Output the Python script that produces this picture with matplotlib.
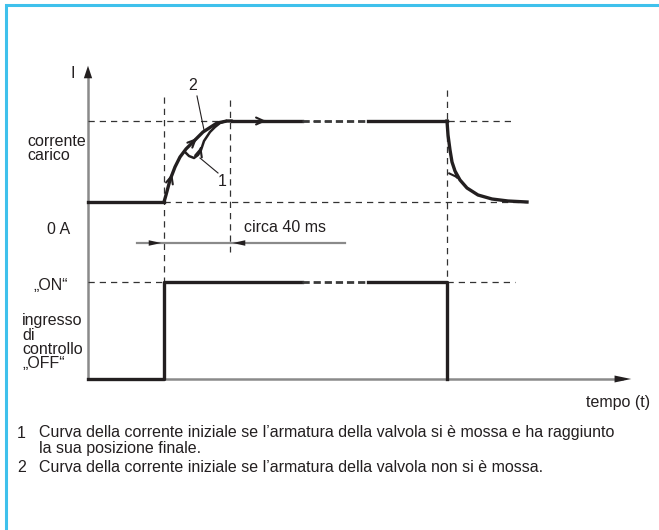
import matplotlib.pyplot as plt
import numpy as np

plt.rcParams['font.family'] = ['Liberation Sans', 'DejaVu Sans']

# time positions (px) of the events
t_on = 164
t_settle = 230
t_off = 447
t_end_load = 515
t_axis_end = 634

# levels (px, y grows downwards)
y_load = 121
y_zero = 202
y_on = 282
y_off = 379

# start-up current curves
curve2_x = [164, 166, 170, 175, 180, 186, 192, 203, 217, 227, 232]
curve2_y = [202, 195, 180, 167, 157, 149, 143, 132, 123, 121, 121]
curve1_x = [185, 189, 194, 198, 201, 204, 210, 215, 220, 226]
curve1_y = [152, 156, 158, 155, 150, 141, 132, 127, 123, 121]

# current decay after switch-off
decay_x = [447, 448, 450, 452, 455, 460, 467, 478, 492, 508, 527]
decay_y = [121, 135, 150, 162, 171, 180, 188, 195, 199, 201, 202]

# side labels: (text, x, y centre)
labels = [
    ("I", 70, 74),
    ("corrente", 27, 142),
    ("carico", 27, 156),
    ("0 A", 47, 230),
    ("\u201eON\u201c", 33, 285),
    ("ingresso", 22, 321),
    ("di", 22, 335),
    ("controllo", 22, 349),
    ("\u201eOFF\u201c", 22, 364),
]

notes = [
    ("1", ["Curva della corrente iniziale se l\u2019armatura della valvola si è mossa e ha raggiunto",
           "la sua posizione finale."]),
    ("2", ["Curva della corrente iniziale se l\u2019armatura della valvola non si è mossa."]),
]

fig = plt.figure(figsize=(6.59, 5.30), dpi=100)
ax = fig.add_axes([0, 0, 1, 1])
ax.set_xlim(0, 659)
ax.set_ylim(530, 0)
ax.axis('off')

ink = '#231f20'
grey = '#8a8a8a'
dash = dict(color='#333333', lw=0.9, ls=(0, (5, 4)))
brk = dict(color='#3a3a3a', lw=2.0, ls=(0, (2.6, 1.4)))

# frame
ax.plot([6, 6, 659], [530, 5, 5], color='#3fc1ec', lw=2.2, solid_joinstyle='miter')

# axes
ax.plot([88, 88], [y_off, 76], color=grey, lw=1.8)
ax.annotate('', xy=(88, 63), xytext=(88, 80),
            arrowprops=dict(arrowstyle='-|>,head_length=0.9,head_width=0.3', color=ink, lw=0))
ax.plot([88, t_axis_end - 12], [y_off, y_off], color=grey, lw=1.8)
ax.annotate('', xy=(t_axis_end, y_off), xytext=(t_axis_end - 18, y_off),
            arrowprops=dict(arrowstyle='-|>,head_length=1.2,head_width=0.25', color=ink, lw=0))

# guide lines
ax.plot([88, t_end_load], [y_load, y_load], **dash)
ax.plot([t_on, 527], [y_zero, y_zero], **dash)
ax.plot([88, t_on], [y_on, y_on], **dash)
ax.plot([t_off, t_end_load], [y_on, y_on], **dash)
ax.plot([t_on, t_on], [97, y_on], **dash)
ax.plot([t_settle, t_settle], [100, 252], **dash)
ax.plot([t_off, t_off], [90, y_on], **dash)

# current trace
lw = 2.4
ax.plot([88, t_on], [y_zero, y_zero], color=ink, lw=lw)
ax.plot(curve2_x, curve2_y, color=ink, lw=lw, solid_capstyle='round')
ax.plot(curve1_x, curve1_y, color=ink, lw=1.8)
ax.plot([232, 302], [y_load, y_load], color=ink, lw=lw)
ax.plot([302, 368], [y_load, y_load], **brk)
ax.plot([368, t_off], [y_load, y_load], color=ink, lw=lw)
ax.plot(decay_x, decay_y, color=ink, lw=lw)

# control signal
ax.plot([88, t_on, t_on, 302], [y_off, y_off, y_on, y_on], color=ink, lw=lw)
ax.plot([302, 368], [y_on, y_on], **brk)
ax.plot([368, t_off, t_off], [y_on, y_on, y_off], color=ink, lw=lw)

# direction marks on the curves
vee = dict(arrowstyle='->,head_length=0.55,head_width=0.25', color=ink, lw=1.5)
for (x0, y0), (x1, y1) in [((171, 178), (173, 171)),
                           ((193, 142), (199, 136)),
                           ((200, 151), (202, 144)),
                           ((262, y_load), (269, y_load)),
                           ((455, 175), (460, 181))]:
    ax.annotate('', xy=(x1, y1), xytext=(x0, y0), arrowprops=vee)

# 40 ms dimension
ax.plot([137, 345], [243, 243], color=grey, lw=1.6)
ax.annotate('', xy=(t_on, 243), xytext=(147, 243),
            arrowprops=dict(arrowstyle='-|>,head_length=0.9,head_width=0.2', color=ink, lw=0))
ax.annotate('', xy=(t_settle, 243), xytext=(247, 243),
            arrowprops=dict(arrowstyle='-|>,head_length=0.9,head_width=0.2', color=ink, lw=0))

# leaders for curve numbers
ax.plot([197, 204], [96, 130], color=ink, lw=0.8)
ax.plot([200, 218], [158, 173], color=ink, lw=0.8)

fs = 11.5
ax.text(193, 86, '2', fontsize=fs, color=ink, ha='center', va='center')
ax.text(222, 181, '1', fontsize=fs, color=ink, ha='center', va='center')
for txt, x, y in labels:
    ax.text(x, y, txt, fontsize=fs, color=ink, ha='left', va='center')
ax.text(244, 228, 'circa 40 ms', fontsize=fs, color=ink, ha='left', va='center')
ax.text(650, 402, 'tempo (t)', fontsize=fs, color=ink, ha='right', va='center')

y = 433
for num, lines in notes:
    ax.text(17, y, num, fontsize=fs, color=ink, ha='left', va='center')
    for line in lines:
        ax.text(39, y, line, fontsize=fs, color=ink, ha='left', va='center')
        y += 16
    y += 3

fig.savefig('out.png', dpi=100, facecolor='white')
